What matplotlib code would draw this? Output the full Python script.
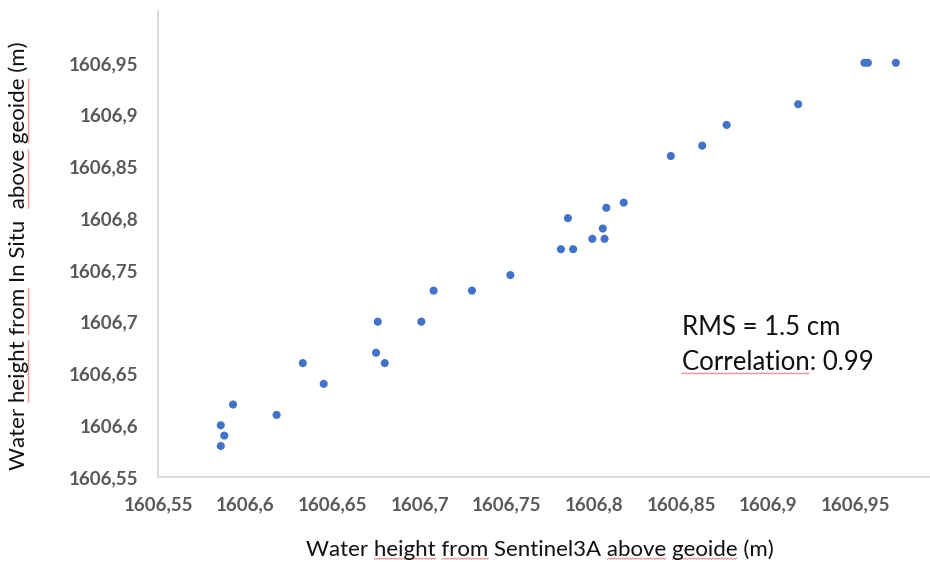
import numpy as np
import matplotlib
matplotlib.use("Agg")
import matplotlib.pyplot as plt
from matplotlib.lines import Line2D
from matplotlib.ticker import FixedLocator, FuncFormatter

# Sentinel-3A altimetry vs in-situ gauge heights (m above geoid)
sentinel_h = [1606.586, 1606.588, 1606.586, 1606.593, 1606.618, 1606.633,
              1606.645, 1606.676, 1606.675, 1606.680, 1606.701, 1606.708,
              1606.730, 1606.752, 1606.781, 1606.788, 1606.785, 1606.799,
              1606.806, 1606.805, 1606.807, 1606.817, 1606.844, 1606.862,
              1606.876, 1606.917, 1606.955, 1606.957, 1606.973]
insitu_h = [1606.58, 1606.59, 1606.60, 1606.62, 1606.61, 1606.66,
            1606.64, 1606.70, 1606.67, 1606.66, 1606.70, 1606.73,
            1606.73, 1606.745, 1606.77, 1606.77, 1606.80, 1606.78,
            1606.78, 1606.79, 1606.81, 1606.815, 1606.86, 1606.87,
            1606.89, 1606.91, 1606.95, 1606.95, 1606.95]
tick_vals = [1606.55, 1606.6, 1606.65, 1606.7, 1606.75, 1606.8, 1606.85, 1606.9, 1606.95]
rms_cm = 1.5
corr = 0.99

plt.rcParams['font.family'] = ['Lato', 'DejaVu Sans']

fig = plt.figure(figsize=(9.3, 5.62), dpi=100)
ax = fig.add_axes([0.1699, 0.1512, 0.844, 0.8292])
ax.scatter(sentinel_h, insitu_h, s=34, color='#4472C4', edgecolors='none', zorder=3)

ax.set_xlim(1606.55, 1607.0)
ax.set_ylim(1606.55, 1607.0)

def comma_fmt(v, pos):
    return ('%.2f' % v).rstrip('0').replace('.', ',')

for axis in (ax.xaxis, ax.yaxis):
    axis.set_major_locator(FixedLocator(tick_vals))
    axis.set_major_formatter(FuncFormatter(comma_fmt))
ax.tick_params(length=0, labelsize=13.5, labelcolor='#595959', pad=14)
for lab in ax.get_xticklabels() + ax.get_yticklabels():
    lab.set_fontweight('bold')

for side in ('top', 'right'):
    ax.spines[side].set_visible(False)
for side in ('left', 'bottom'):
    ax.spines[side].set_color('#D9D9D9')
    ax.spines[side].set_linewidth(1.3)

xlab = fig.text(0.581, 0.003, 'Water height from Sentinel3A above geoide (m)',
                ha='center', va='bottom', fontsize=16, color='#111111')
ylab = fig.text(0.009, 0.545, 'Water height from In Situ  above geoide (m)',
                ha='left', va='center', rotation=90, fontsize=16, color='#111111')

fig.text(0.733, 0.417, 'RMS = %.1f cm' % rms_cm, ha='left', va='center',
         fontsize=18.5, color='#111111')
corr_txt = fig.text(0.733, 0.355, 'Correlation: %.2f' % corr, ha='left', va='center',
                    fontsize=18.5, color='#111111')

# red spell-check squiggles under some words
fig.canvas.draw()
renderer = fig.canvas.get_renderer()
W, H = fig.bbox.width, fig.bbox.height

def squiggle(t, words):
    s = t.get_text()
    prop = t.get_fontproperties()
    bb = t.get_window_extent(renderer)
    vertical = t.get_rotation() == 90
    for w in words:
        i = s.index(w)
        a = renderer.get_text_width_height_descent(s[:i], prop, ismath=False)[0] if i else 0
        b = renderer.get_text_width_height_descent(s[:i + len(w)], prop, ismath=False)[0]
        u = np.arange(a, b, 1.5)
        off = np.where(np.arange(len(u)) % 2 == 0, 0.0, 1.2)
        if vertical:
            px, py = bb.x1 - 1 + off, bb.y0 + u
        else:
            px, py = bb.x0 + u, bb.y0 + 1 + off
        fig.add_artist(Line2D(px / W, py / H, transform=fig.transFigure,
                              color='#E06666', lw=0.7, alpha=0.8))

squiggle(xlab, ['height', 'from', 'above', 'geoide'])
squiggle(ylab, ['height', 'from', 'above', 'geoide'])
squiggle(corr_txt, ['Correlation'])

fig.savefig('out.png', dpi=100)
